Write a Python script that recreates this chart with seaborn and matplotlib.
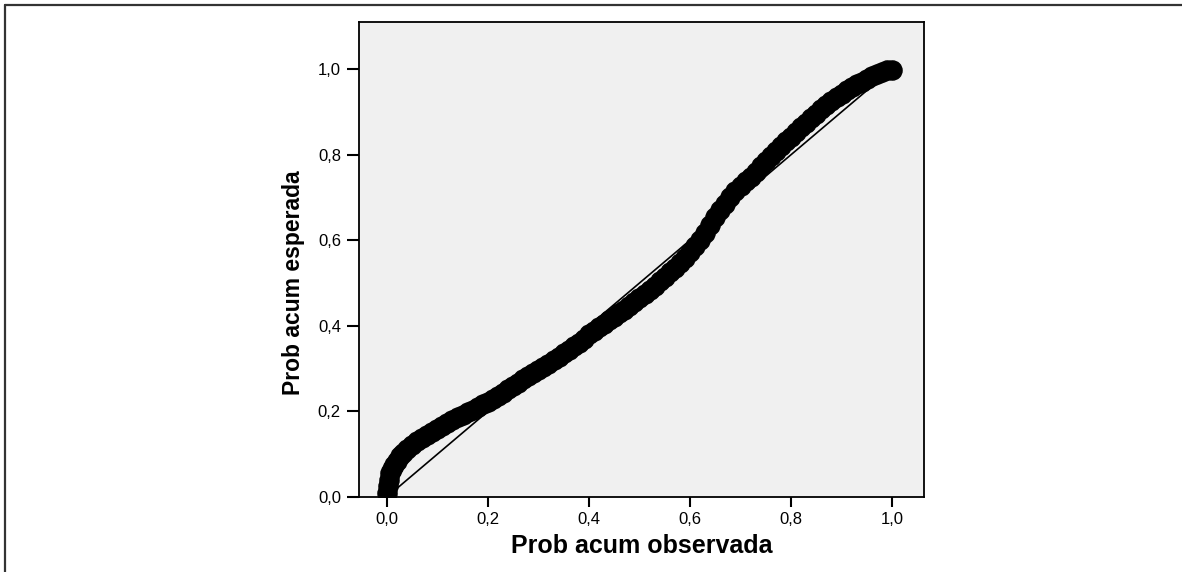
import numpy as np
import pandas as pd
import seaborn as sns
import matplotlib
matplotlib.use("Agg")
import matplotlib.pyplot as plt
from matplotlib.lines import Line2D

observada = [0.000, 0.002, 0.004, 0.007, 0.010, 0.015, 0.020, 0.026, 0.032, 0.040,
             0.050, 0.060, 0.070, 0.080, 0.090, 0.100, 0.110, 0.120, 0.130, 0.140,
             0.150, 0.160, 0.170, 0.180, 0.190, 0.200, 0.210, 0.220, 0.230, 0.240,
             0.250, 0.260, 0.270, 0.280, 0.290, 0.300, 0.310, 0.320, 0.330, 0.340,
             0.350, 0.360, 0.370, 0.380, 0.390, 0.400, 0.410, 0.420, 0.430, 0.440,
             0.450, 0.460, 0.470, 0.480, 0.490, 0.500, 0.510, 0.520, 0.530, 0.540,
             0.550, 0.560, 0.570, 0.580, 0.590, 0.600, 0.610, 0.620, 0.630, 0.640,
             0.650, 0.660, 0.670, 0.680, 0.690, 0.700, 0.710, 0.720, 0.730, 0.740,
             0.750, 0.760, 0.770, 0.780, 0.790, 0.800, 0.810, 0.820, 0.830, 0.840,
             0.850, 0.860, 0.870, 0.880, 0.890, 0.900, 0.910, 0.920, 0.930, 0.940,
             0.950, 0.960, 0.970, 0.980, 0.990, 1.000]
esperada = [0.010, 0.025, 0.040, 0.055, 0.065, 0.075, 0.085, 0.095, 0.102, 0.112,
            0.122, 0.130, 0.137, 0.145, 0.152, 0.159, 0.165, 0.172, 0.179, 0.186,
            0.192, 0.198, 0.204, 0.211, 0.217, 0.223, 0.229, 0.236, 0.244, 0.252,
            0.259, 0.267, 0.275, 0.283, 0.290, 0.297, 0.304, 0.312, 0.320, 0.328,
            0.336, 0.344, 0.352, 0.361, 0.370, 0.380, 0.389, 0.397, 0.405, 0.413,
            0.421, 0.429, 0.437, 0.446, 0.455, 0.465, 0.474, 0.484, 0.494, 0.504,
            0.514, 0.525, 0.536, 0.547, 0.559, 0.572, 0.586, 0.601, 0.617, 0.635,
            0.654, 0.670, 0.685, 0.700, 0.714, 0.727, 0.738, 0.748, 0.760, 0.773,
            0.786, 0.797, 0.808, 0.820, 0.832, 0.842, 0.853, 0.864, 0.875, 0.885,
            0.896, 0.906, 0.916, 0.925, 0.934, 0.942, 0.950, 0.957, 0.964, 0.971,
            0.977, 0.983, 0.988, 0.993, 0.997, 0.999]
diagonal = [0.0, 1.0]
ticks = [0.0, 0.2, 0.4, 0.6, 0.8, 1.0]
tick_labels = ["0,0", "0,2", "0,4", "0,6", "0,8", "1,0"]

df = pd.DataFrame({"observada": observada, "esperada": esperada})

sns.set_style("ticks")
plt.rcParams["font.family"] = ["Liberation Sans", "DejaVu Sans"]
plt.rcParams["text.color"] = "black"
plt.rcParams["axes.labelcolor"] = "black"

fig = plt.figure(figsize=(11.82, 5.72), dpi=100)
ax = fig.add_axes([0.3037, 0.1311, 0.478, 0.8304])
ax.set_facecolor("#f0f0f0")

ax.plot(diagonal, diagonal, color="black", linewidth=1.2, zorder=2)
sns.scatterplot(x="observada", y="esperada", data=df, ax=ax, s=190,
                marker="o", facecolor="black", edgecolor="black",
                linewidth=1.0, zorder=3)

ax.set_xlim(-0.055, 1.063)
ax.set_ylim(0.0, 1.11)
ax.set_xticks(ticks)
ax.set_xticklabels(tick_labels)
ax.set_yticks(ticks)
ax.set_yticklabels(tick_labels)
ax.tick_params(axis="both", labelsize=12, width=1.5, colors="black", pad=4)
ax.tick_params(axis="y", length=9)
ax.tick_params(axis="x", length=7)
for sp in ax.spines.values():
    sp.set_linewidth(1.3)
    sp.set_color("black")

ax.set_xlabel("Prob acum observada", fontsize=18, fontweight="bold", labelpad=5)
ax.set_ylabel("Prob acum esperada", fontsize=16.5, fontweight="bold")
ax.yaxis.set_label_coords(-0.095, 0.5 / 1.11)

# marco exterior (solo visible arriba e izquierda)
fig.add_artist(Line2D([5 / 1182, 5 / 1182], [0, 1 - 5 / 572], transform=fig.transFigure,
                      color="#333333", linewidth=1.6))
fig.add_artist(Line2D([5 / 1182, 1], [1 - 5 / 572, 1 - 5 / 572], transform=fig.transFigure,
                      color="#333333", linewidth=1.6))

fig.savefig("out.png", dpi=100)
